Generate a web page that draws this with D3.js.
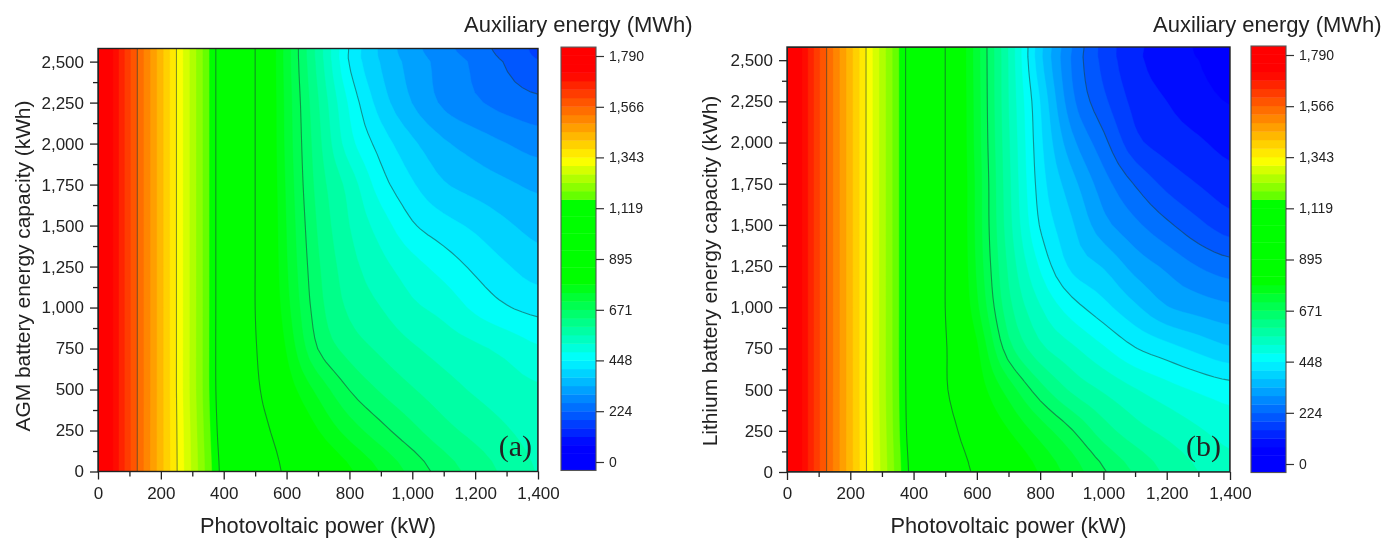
<!DOCTYPE html>
<html><head><meta charset="utf-8">
<script src="https://cdn.jsdelivr.net/npm/d3@7/dist/d3.min.js"></script>
<style>html,body{margin:0;background:#fff}svg{display:block;filter:blur(0.35px)}text{font-family:"Liberation Sans",Arial,sans-serif;fill:#222}</style>
</head><body><svg id="c" width="1400" height="538"></svg>
<script>
const xGrid=[0,100,200,300,400,500,600,700,800,900,1000,1100,1200,1300,1400];
const yGrid=[0,250,500,750,1000,1250,1500,1750,2000,2250,2500,2580];
const zA=[
[1790,1611,1432,1262,1098,980,881,835,790,744,698,655,620,588,558],
[1790,1611,1432,1258,1085,945,850,785,730,685,645,610,585,563,545],
[1790,1611,1432,1253,1076,915,810,735,671,630,600,575,555,540,528],
[1790,1611,1432,1253,1074,902,780,671,620,590,565,545,530,512,490],
[1790,1611,1432,1253,1074,895,760,650,590,560,530,510,477,451,436],
[1790,1611,1432,1253,1074,895,750,640,575,535,500,470,440,414,392],
[1790,1611,1432,1253,1074,895,745,630,560,505,453,425,403,379,360],
[1790,1611,1432,1253,1074,895,740,620,545,465,415,377,358,342,328],
[1790,1611,1432,1253,1074,895,735,610,500,432,381,342,319,299,282],
[1790,1611,1432,1253,1074,895,733,600,478,393,335,292,267,247,234],
[1790,1611,1432,1253,1074,895,729,585,446,371,321,284,254,220,190],
[1790,1611,1432,1253,1074,895,729,582,445,366,312,273,241,209,180]];
const zB=[
[1790,1611,1432,1260,1095,975,880,830,780,730,677,630,590,560,535],
[1790,1611,1432,1256,1082,940,840,785,730,675,615,575,550,527,508],
[1790,1611,1432,1253,1076,905,810,730,650,590,555,525,500,480,465],
[1790,1611,1432,1253,1074,902,790,650,570,530,490,450,425,400,378],
[1790,1611,1432,1253,1074,895,755,610,525,465,423,380,338,320,306],
[1790,1611,1432,1253,1074,895,740,590,480,402,370,322,291,260,240],
[1790,1611,1432,1253,1074,895,735,575,445,378,312,270,232,196,167],
[1790,1611,1432,1253,1074,895,735,570,430,350,278,221,176,148,128],
[1790,1611,1432,1253,1074,895,730,565,420,310,236,161,133,117,100],
[1790,1611,1432,1253,1074,895,728,560,410,272,196,138,112,92,72],
[1790,1611,1432,1253,1074,895,726,558,385,258,176,122,94,75,45],
[1790,1611,1432,1253,1074,895,726,557,385,262,174,122,93,70,38]];
const xTicks=[0,200,400,600,800,1000,1200,1400];
const xMinor=[100,300,500,700,900,1100,1300];
const yTicks=[0,250,500,750,1000,1250,1500,1750,2000,2250,2500];
const yMinor=[125,375,625,875,1125,1375,1625,1875,2125,2375];
const barTicks=[0,224,448,671,895,1119,1343,1566,1790];
const lineLevels=[224,448,672,895,1119,1343,1566];
const bandStep=224/6;
const bandIndex=d3.range(-1,49);
const stopValues=[75,458,798,1155,1162,1330,1715];
const stopColors=["#0000ff","#00ffff","#00ff00","#00ff00","#58ff00","#ffff00","#ff0000"];
const xTitle="Photovoltaic power (kW)", barTitle="Auxiliary energy (MWh)";
const yTitleA="AGM battery energy capacity (kWh)", yTitleB="Lithium battery energy capacity (kWh)";

const color=d3.scaleLinear().domain(stopValues).range(stopColors).clamp(true);
const bandColor=k=>color((k+0.5)*bandStep);
const svg=d3.select("#c");
const fmt=d3.format(",");
const ink="#222";
const fine=4;
// render-time smoothing of the read grid, so contours are curves instead of marching-square kinks
function smoothLine(v,f){
  const out=[];const n=v.length;
  for(let i=0;i<n-1;i++)for(let s=0;s<f;s++){
    const t=s/f,a=v[Math.max(i-1,0)],b=v[i],c=v[i+1],d=v[Math.min(i+2,n-1)];
    out.push(b+0.5*t*(c-a+t*(2*a-5*b+4*c-d+t*(3*(b-c)+d-a))));
  }
  out.push(v[n-1]);return out;
}
function refine(z,f){
  const rows=z.map(r=>smoothLine(r,f));
  const cols=d3.transpose(rows).map(c=>smoothLine(c,f));
  return d3.transpose(cols);
}
function panel(o){
  const g=svg.append("g");
  const x=d3.scaleLinear().domain([0,1400]).range([o.l,o.r]);
  const y=d3.scaleLinear().domain([0,2580]).range([o.b,o.t]);
  const ix=d3.scaleLinear().domain(xGrid.map((d,i)=>i)).range(xGrid).clamp(true);
  const iy=d3.scaleLinear().domain(yGrid.map((d,i)=>i)).range(yGrid).clamp(true);
  const zf=refine(o.z,fine);
  const m=zf.length,n=zf[0].length;
  const flat=zf.flat();
  const path=d3.geoPath(d3.geoTransform({point(px,py){this.stream.point(x(ix((px-0.5)/fine)),y(iy((py-0.5)/fine)));}}));
  const clipId="clip"+o.id;
  svg.append("clipPath").attr("id",clipId).append("rect").attr("x",o.l).attr("y",o.t).attr("width",o.r-o.l).attr("height",o.b-o.t);
  const plot=g.append("g").attr("clip-path",`url(#${clipId})`);
  plot.append("rect").attr("x",o.l).attr("y",o.t).attr("width",o.r-o.l).attr("height",o.b-o.t).attr("fill",bandColor(0));
  const ks=bandIndex.filter(k=>k>=1);
  const cs=d3.contours().size([n,m]).smooth(true).thresholds(ks.map(k=>k*bandStep))(flat);
  plot.selectAll("path.f").data(cs).join("path").attr("class","f").attr("d",path)
    .attr("fill",(d,i)=>bandColor(ks[i])).attr("stroke",(d,i)=>bandColor(ks[i])).attr("stroke-width",0.4);
  const ls=d3.contours().size([n,m]).smooth(true).thresholds(lineLevels)(flat);
  plot.selectAll("path.l").data(ls).join("path").attr("class","l").attr("d",path)
    .attr("fill","none").attr("stroke","#1c3c3c").attr("stroke-opacity",0.55).attr("stroke-width",1.1);
  g.append("rect").attr("x",o.l).attr("y",o.t).attr("width",o.r-o.l).attr("height",o.b-o.t)
    .attr("fill","none").attr("stroke",ink).attr("stroke-width",1.4);
  const ax=(a)=>{a.select(".domain").remove();a.selectAll("line").attr("stroke",ink).attr("stroke-width",1.3);
    a.selectAll("text").attr("font-size",17).attr("fill",ink).style("font-family",'"Liberation Sans",Arial,sans-serif');};
  g.append("g").attr("transform",`translate(0,${o.b})`).call(d3.axisBottom(x).tickValues(xMinor).tickSize(5).tickFormat("")).call(ax);
  g.append("g").attr("transform",`translate(0,${o.b})`).call(d3.axisBottom(x).tickValues(xTicks).tickSize(8).tickPadding(7).tickFormat(fmt)).call(ax);
  g.append("g").attr("transform",`translate(${o.l},0)`).call(d3.axisLeft(y).tickValues(yMinor).tickSize(5).tickFormat("")).call(ax);
  g.append("g").attr("transform",`translate(${o.l},0)`).call(d3.axisLeft(y).tickValues(yTicks).tickSize(8).tickPadding(6).tickFormat(fmt)).call(ax);
  g.append("text").attr("x",(o.l+o.r)/2).attr("y",533).attr("text-anchor","middle").attr("font-size",21.8).text(xTitle);
  g.append("text").attr("transform",`translate(${o.yx},${o.yc}) rotate(-90)`).attr("text-anchor","middle").attr("font-size",20.9).text(o.yTitle);
  g.append("text").attr("x",o.bt).attr("y",32).attr("font-size",o.id==="A"?22:22).text(barTitle);
  g.append("text").attr("x",o.r-o.lab).attr("y",456).attr("text-anchor","end").attr("font-size",30)
    .style("font-family",'"Liberation Serif",serif').text(o.id==="A"?"(a)":"(b)");
  // colour bar
  const by=d3.scaleLinear().domain([0,1790]).range([o.b0,o.b1]);
  const bw=d3.scaleBand().domain(["bar"]).range([o.bl,o.br]);
  g.append("g").selectAll("rect").data(bandIndex).join("rect")
    .attr("x",bw("bar")).attr("width",bw.bandwidth())
    .attr("y",k=>by((k+1)*bandStep)).attr("height",k=>by(k*bandStep)-by((k+1)*bandStep)+0.4)
    .attr("fill",bandColor);
  g.append("rect").attr("x",o.bl).attr("width",o.br-o.bl).attr("y",by(49*bandStep)).attr("height",by(-bandStep)-by(49*bandStep))
    .attr("fill","none").attr("stroke","#555").attr("stroke-width",1.1);
  const ba=g.append("g").attr("transform",`translate(${o.br},0)`).call(d3.axisRight(by).tickValues(barTicks).tickSize(8).tickPadding(5).tickFormat(fmt));
  ba.select(".domain").remove();ba.selectAll("line").attr("stroke","#333").attr("stroke-width",1.2);
  ba.selectAll("text").attr("font-size",14).attr("fill","#333").style("font-family",'"Liberation Sans",Arial,sans-serif');
}
panel({id:"A",z:zA,l:98,r:538,t:48.5,b:471.5,yx:30,yc:266,yTitle:yTitleA,bt:464,bl:561,br:596,b0:462,b1:56,lab:6});
panel({id:"B",z:zB,l:787,r:1230,t:47,b:472,yx:717,yc:271,yTitle:yTitleB,bt:1153,bl:1251,br:1286,b0:464,b1:55,lab:9});
</script></body></html>
